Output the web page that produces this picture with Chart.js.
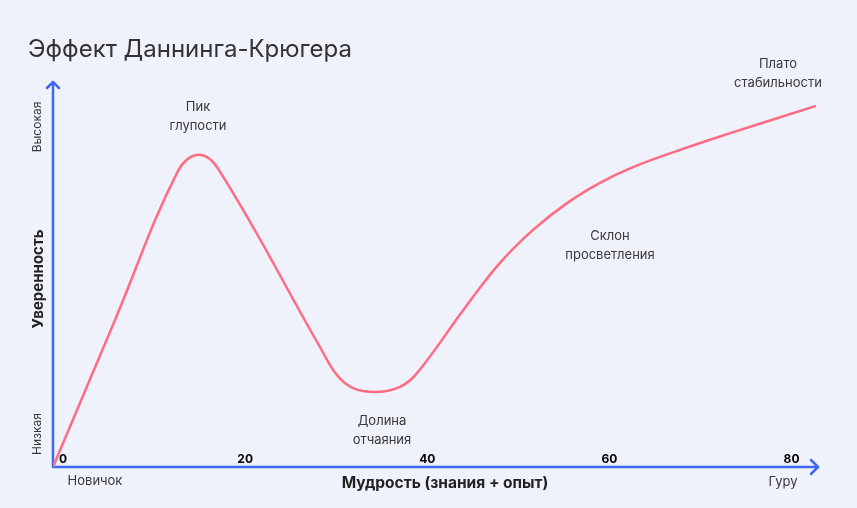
<!DOCTYPE html>
<html>
<head>
<meta charset="utf-8">
<script src="https://cdn.jsdelivr.net/npm/chart.js@4"></script>
<style>
  html, body { margin: 0; padding: 0; background: #EFF1FB; }
  #wrap { width: 857px; height: 508px; position: relative; }
  canvas { display: block; }
</style>
</head>
<body>
<div id="wrap"><canvas id="c" width="857" height="508"></canvas></div>
<script>
// ---- data ----
const titleText = "Эффект Даннинга-Крюгера";
const wisdomValues = [0, 6.81, 13.73, 16.03, 18.23, 29.32, 31.18, 32.94, 35.58, 38.10, 39.97, 45.46, 49.08, 52.71, 56.44, 60.06, 63.69, 68.85, 74.01, 83.78];
const confidenceValues = [0, 38.4, 77.3, 81.5, 77.5, 31.3, 24.0, 20.6, 19.6, 20.9, 24.5, 42.3, 53.3, 61.9, 68.9, 74.2, 78.3, 82.8, 86.9, 94.3];
const xTickLabels = [0, 20, 40, 60, 80];
const stageLabels = [["Пик", "глупости"], ["Долина", "отчаяния"], ["Склон", "просветления"], ["Плато", "стабильности"]];
const xAxisTitle = "Мудрость (знания + опыт)";
const yAxisTitle = "Уверенность";
const xEndLabels = ["Новичок", "Гуру"];
const yEndLabels = ["Низкая", "Высокая"];

const AXIS = '#3D68F0';
const LINE = '#FF6B81';
const TEXT = '#3a3a3a';
const FONT = 'Inter, "Noto Sans", sans-serif';

const decor = {
  id: 'decor',
  beforeDatasetsDraw(chart) {
    const ctx = chart.ctx;
    const xs = chart.scales.x, ys = chart.scales.y;
    const x0 = xs.getPixelForValue(0), y0 = ys.getPixelForValue(0);
    const xEnd = chart.chartArea.right, yEnd = chart.chartArea.top - 2;
    ctx.save();
    ctx.strokeStyle = AXIS;
    ctx.lineWidth = 2.5;
    ctx.lineCap = 'round';
    ctx.lineJoin = 'round';
    ctx.beginPath();
    ctx.moveTo(x0, y0); ctx.lineTo(xEnd, y0);
    ctx.moveTo(x0, y0); ctx.lineTo(x0, yEnd);
    ctx.stroke();
    ctx.beginPath();
    ctx.moveTo(xEnd - 7, y0 - 7); ctx.lineTo(xEnd, y0); ctx.lineTo(xEnd - 7, y0 + 7);
    ctx.moveTo(x0 - 6, yEnd + 6); ctx.lineTo(x0, yEnd); ctx.lineTo(x0 + 6, yEnd + 6);
    ctx.stroke();
    ctx.restore();
  },
  afterDatasetsDraw(chart) {
    const ctx = chart.ctx;
    const xs = chart.scales.x, ys = chart.scales.y;
    const y0 = ys.getPixelForValue(0);
    ctx.save();
    // title
    ctx.fillStyle = '#333';
    ctx.font = '24px ' + FONT;
    ctx.textAlign = 'left';
    ctx.textBaseline = 'alphabetic';
    ctx.fillText(titleText, 28, 57);
    // x tick labels
    ctx.fillStyle = '#000';
    ctx.font = 'bold 12px ' + FONT;
    ctx.textAlign = 'center';
    ctx.textBaseline = 'bottom';
    xTickLabels.forEach(v => ctx.fillText(String(v), xs.getPixelForValue(v) + 10, y0 - 2));
    // stage annotations
    ctx.fillStyle = TEXT;
    ctx.font = '13px ' + FONT;
    ctx.textBaseline = 'middle';
    const pos = [[198, 107], [382, 421], [610, 236], [778, 64]];
    stageLabels.forEach((lines, i) => {
      lines.forEach((t, j) => ctx.fillText(t, pos[i][0], pos[i][1] + j * 19));
    });
    // x end labels
    ctx.fillText(xEndLabels[0], 95, 481);
    ctx.fillText(xEndLabels[1], 783, 482);
    // x axis title
    ctx.fillStyle = '#222';
    ctx.font = 'bold 15.5px ' + FONT;
    ctx.fillText(xAxisTitle, 445, 483);
    // y labels rotated
    const rot = (t, x, y, font, color) => {
      ctx.save();
      ctx.translate(x, y);
      ctx.rotate(-Math.PI / 2);
      ctx.font = font;
      ctx.fillStyle = color;
      ctx.textAlign = 'center';
      ctx.textBaseline = 'middle';
      ctx.fillText(t, 0, 0);
      ctx.restore();
    };
    rot(yAxisTitle, 38, 279, 'bold 15px ' + FONT, '#222');
    rot(yEndLabels[1], 37, 127, '12px ' + FONT, TEXT);
    rot(yEndLabels[0], 37, 434, '12px ' + FONT, TEXT);
    ctx.restore();
  }
};

new Chart(document.getElementById('c'), {
  type: 'scatter',
  data: {
    datasets: [{
      data: wisdomValues.map((x, i) => ({ x, y: confidenceValues[i] })),
      showLine: true,
      borderColor: LINE,
      borderWidth: 2.5,
      pointRadius: 0,
      fill: false,
      tension: 0.4
    }]
  },
  options: {
    responsive: false,
    devicePixelRatio: 1,
    animation: false,
    layout: { padding: { left: 53, right: 39, top: 84, bottom: 41 } },
    plugins: { legend: { display: false }, tooltip: { enabled: false }, title: { display: false } },
    scales: {
      x: { type: 'linear', min: 0, max: 84, display: false },
      y: { type: 'linear', min: 0, max: 100, display: false }
    }
  },
  plugins: [decor]
});
</script>
</body>
</html>
